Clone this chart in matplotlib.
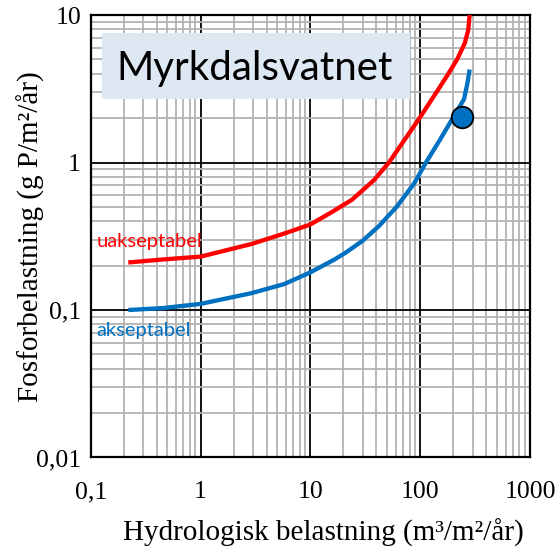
import matplotlib
matplotlib.use("Agg")
import matplotlib.pyplot as plt
import matplotlib.patches as mpatches
from matplotlib.ticker import FixedLocator, LogLocator, NullFormatter

# curves (x: hydraulic load, y: phosphorus load)
red_x = [0.22, 0.45, 1.0, 2.9, 5.8, 10, 15.6, 24, 38, 52, 70, 100, 131, 175, 217, 255, 274, 282]
red_y = [0.21, 0.22, 0.23, 0.28, 0.33, 0.38, 0.46, 0.56, 0.76, 1.0, 1.38, 2.03, 2.76, 3.85, 5.0, 6.45, 7.9, 10.0]

blue_x = [0.22, 0.45, 1.0, 2.9, 5.8, 10, 16.6, 21, 30, 42, 61, 88, 113, 151, 251, 270, 282]
blue_y = [0.10, 0.103, 0.11, 0.13, 0.15, 0.18, 0.22, 0.245, 0.295, 0.37, 0.50, 0.72, 1.0, 1.42, 2.69, 3.48, 4.27]

lake_x = [242]
lake_y = [2.03]

x_ticks = [0.1, 1, 10, 100, 1000]
x_labels = ["0,1", "1", "10", "100", "1000"]
y_ticks = [0.01, 0.1, 1, 10]
y_labels = ["0,01", "0,1", "1", "10"]

RED = "#ff0000"
BLUE = "#0070c0"
GRID = "#b3b3b3"
BOX = "#dde8f3"
SERIF = "Liberation Serif"
SANS = "Lato"

fig = plt.figure(figsize=(5.55, 5.52), dpi=100)
ax = fig.add_axes([0.1634, 0.1712, 0.7915, 0.8016])
ax.set_xscale("log")
ax.set_yscale("log")
ax.set_xlim(0.1, 1000)
ax.set_ylim(0.01, 10)

ax.xaxis.set_major_locator(FixedLocator(x_ticks))
ax.yaxis.set_major_locator(FixedLocator(y_ticks))
ax.set_xticklabels(x_labels, fontfamily=SERIF, fontsize=18.5)
ax.set_yticklabels(y_labels, fontfamily=SERIF, fontsize=18.5)
for axis in (ax.xaxis, ax.yaxis):
    axis.set_minor_locator(LogLocator(base=10, subs=range(2, 10), numticks=20))
    axis.set_minor_formatter(NullFormatter())
ax.tick_params(which="both", length=0)
ax.tick_params(axis="x", pad=17)
ax.tick_params(axis="y", pad=7)

ax.set_axisbelow(True)
ax.grid(True, which="minor", color=GRID, linewidth=1.3)
ax.grid(True, which="major", color="black", linewidth=1.3)
for sp in ax.spines.values():
    sp.set_linewidth(1.6)

ax.plot(red_x, red_y, color=RED, linewidth=3.1, solid_capstyle="butt",
        solid_joinstyle="round", zorder=3)
ax.plot(blue_x, blue_y, color=BLUE, linewidth=3.1, solid_capstyle="butt",
        solid_joinstyle="round", zorder=3)
ax.plot(lake_x, lake_y, "o", color=BLUE, markersize=15.5,
        markeredgecolor="black", markeredgewidth=1.3, zorder=4)

ax.text(0.014, 0.489, "uakseptabel", transform=ax.transAxes, color=RED,
        fontfamily=SANS, fontsize=14.5, ha="left", va="center", zorder=3)
ax.text(0.014, 0.288, "akseptabel", transform=ax.transAxes, color=BLUE,
        fontfamily=SANS, fontsize=14.5, ha="left", va="center", zorder=3)

# title box
ax.add_patch(mpatches.Rectangle((0.025, 0.810), 0.702, 0.149, transform=ax.transAxes,
                                facecolor=BOX, edgecolor="none", zorder=2.5))
ax.text(0.372, 0.853, "Myrkdalsvatnet", transform=ax.transAxes, fontfamily=SANS,
        fontsize=29, ha="center", va="baseline", zorder=3)

ax.set_xlabel("Hydrologisk belastning (m³/m²/år)", fontfamily=SERIF, fontsize=21)
ax.set_ylabel("Fosforbelastning (g P/m²/år)", fontfamily=SERIF, fontsize=21)
ax.xaxis.set_label_coords(0.529, -0.139)
ax.yaxis.set_label_coords(-0.105, 0.499)

fig.savefig("out.png", dpi=100, facecolor="white")
